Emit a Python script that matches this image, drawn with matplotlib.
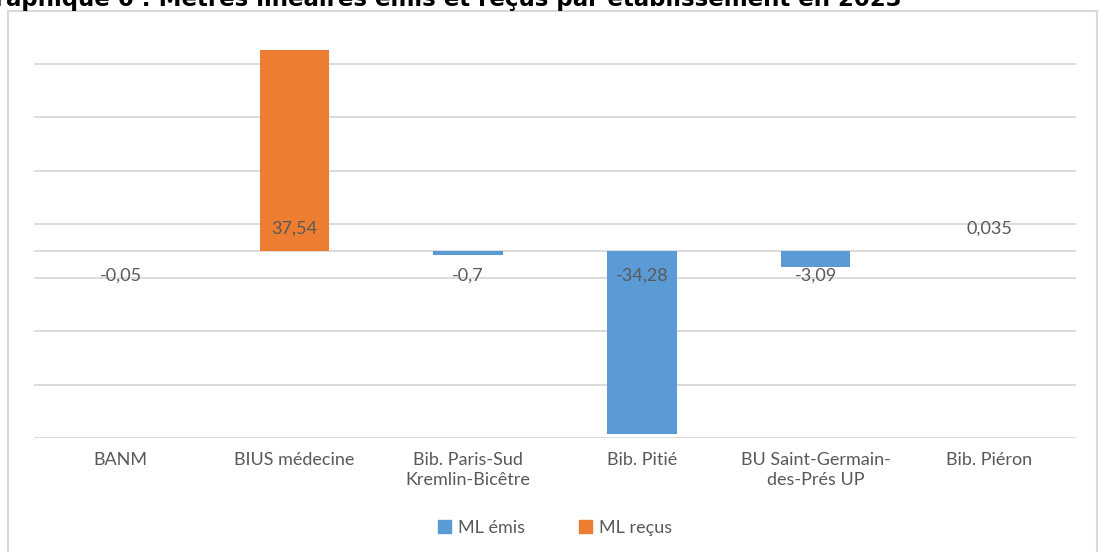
import matplotlib
matplotlib.use("Agg")
import matplotlib.pyplot as plt
from matplotlib.patches import Rectangle, Patch

# Données
categories = ["BANM", "BIUS médecine", "Bib. Paris-Sud\nKremlin-Bicêtre",
              "Bib. Pitié", "BU Saint-Germain-\ndes-Prés UP", "Bib. Piéron"]
ml_emis = [-0.05, 0, -0.7, -34.28, -3.09, 0]
ml_recus = [0, 37.54, 0, 0, 0, 0.035]
series_names = ["ML émis", "ML reçus"]

blue = "#5B9BD5"
orange = "#ED7D31"
grid_col = "#D9D9D9"
text_col = "#595959"
font = "Lato"

fig = plt.figure(figsize=(11, 5.52), dpi=100)
ax = fig.add_axes([34 / 1100, 1 - 438 / 552, 1042 / 1100, 401 / 552])

x = list(range(len(categories)))
ax.bar(x, ml_emis, width=0.4, color=blue, zorder=3)
ax.bar(x, ml_recus, width=0.4, color=orange, zorder=3)

# étiquettes de données (une seule valeur non nulle par établissement)
for i in x:
    v = ml_emis[i] if ml_emis[i] != 0 else ml_recus[i]
    label = str(v).replace(".", ",")
    dy = 16 if v > 0 else -18
    ax.annotate(label, (i, 0), xytext=(0, dy), textcoords="offset points",
                ha="center", va="center", fontsize=13, color=text_col,
                family=font, zorder=4)

ax.set_xlim(-0.5, len(categories) - 0.5)
ax.set_ylim(-35, 40)
ax.set_yticks([-35, -25, -15, -5, 5, 15, 25, 35])
ax.yaxis.grid(True, color=grid_col, linewidth=1.3, zorder=0)
ax.axhline(0, color=grid_col, linewidth=1.3, zorder=1)
ax.tick_params(axis="y", length=0, labelleft=False)
ax.tick_params(axis="x", length=0, pad=10)
ax.set_xticks(x)
ax.set_xticklabels(categories, fontsize=13, color=text_col, family=font,
                   linespacing=1.3)
for s in ax.spines.values():
    s.set_visible(False)

# cadre du graphique
fig.patches.append(Rectangle((8 / 1100, -0.05), 1089 / 1100, 1 - 11 / 552 + 0.05,
                             transform=fig.transFigure, fill=False,
                             edgecolor=grid_col, linewidth=1.5))

fig.legend(handles=[Patch(color=blue), Patch(color=orange)], labels=series_names,
           loc="center", bbox_to_anchor=(555 / 1100, 1 - 528 / 552), ncol=2,
           frameon=False, handlelength=0.7, handleheight=0.7, handletextpad=0.4,
           columnspacing=3, prop={"family": font, "size": 13},
           labelcolor=text_col)

# titre (rogné à gauche et en haut comme sur la capture)
fig.text(902 / 1100, 1 - 6 / 552,
         "Graphique 6 : Mètres linéaires émis et reçus par établissement en 2023",
         ha="right", va="baseline", fontsize=16.5, fontweight="bold",
         family="DejaVu Sans", color="black")

fig.savefig("out.png", dpi=100)
